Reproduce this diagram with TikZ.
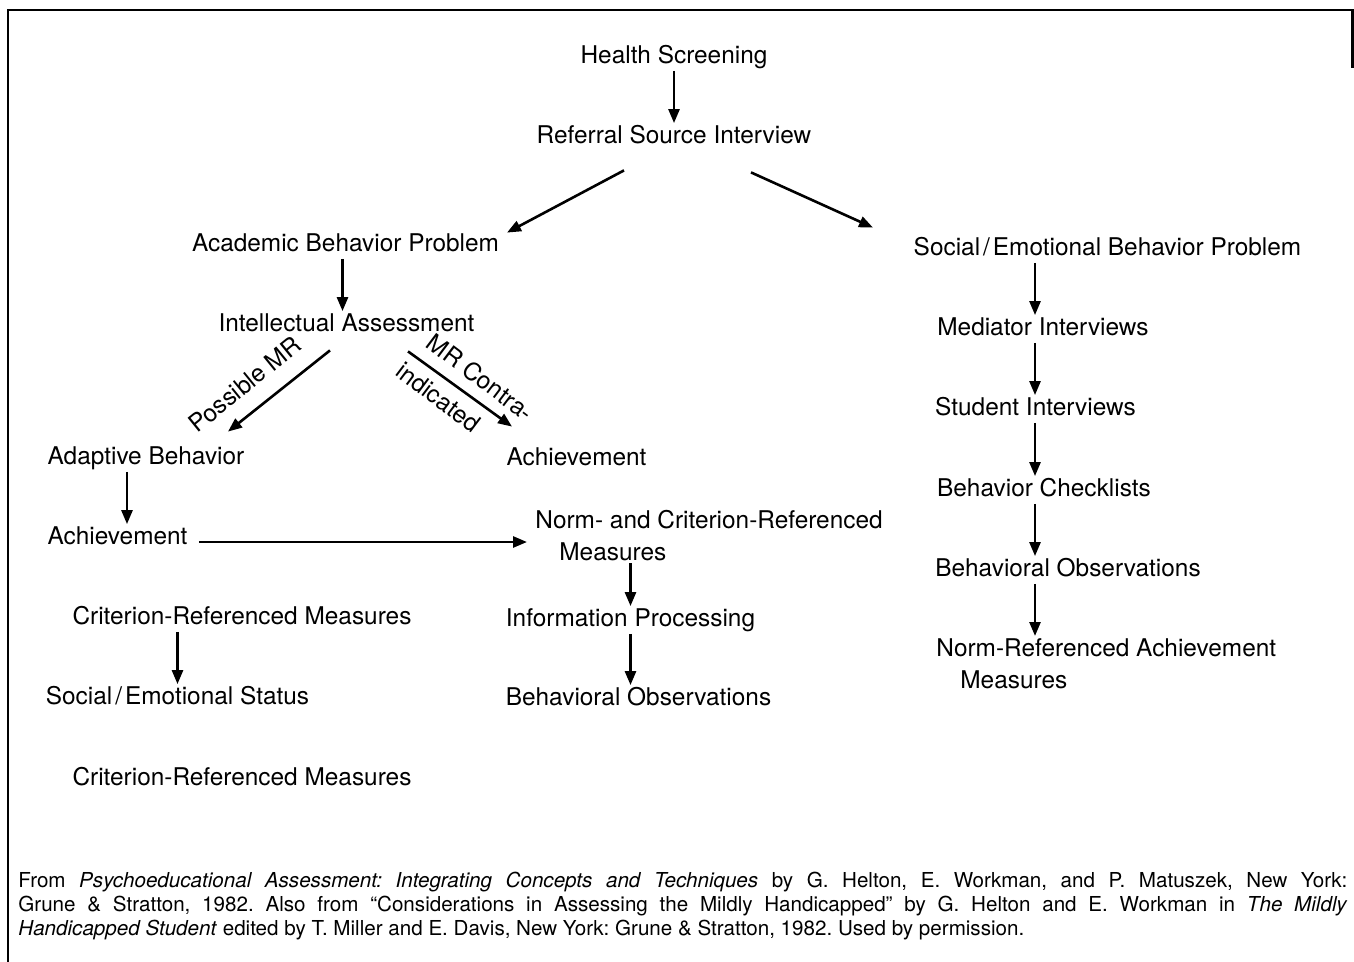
\documentclass[tikz,border=0pt]{standalone}
\usepackage{fontspec}
\setmainfont{TeX Gyre Heros}
\usetikzlibrary{arrows.meta,calc,positioning}
\tikzset{
    flow chart/.style = {x=0.5pt, y=-0.5pt, >={Triangle[length=7pt, width=5.5pt]}},
    item/.style       = {inner sep=1pt, text height=9pt, text depth=2.5pt,
                         font=\fontsize{12.2}{14}\selectfont},
    twoline/.style    = {inner sep=1pt, align=left, anchor=north west,
                         font=\fontsize{12.2}{16}\selectfont},
    tag/.style        = {item, inner sep=0pt},
    arr/.style        = {->, line width=1.3pt},
    note/.style       = {inner sep=0pt, anchor=north west, align=left,
                         font=\fontsize{10.3}{12}\selectfont},
    frame/.style      = {line width=1.3pt}
}
\newcommand{\slashgap}{\kern1.5pt/\kern1.5pt}
\frenchspacing

\begin{document}
\begin{tikzpicture}[flow chart]
\useasboundingbox (0,0) rectangle (1354,962);

% ================= Outer frame =================
\draw[frame] (8,962) -- (8,10) -- (1352.5,10) -- (1352.5,68);

% ================= Top of the chart =================
\node[item] (hs)  at (674, 57)  {Health Screening};
\node[item] (rsi) at (674, 137) {Referral Source Interview};
\draw[arr] (hs.south) -- (rsi.north);

\node[item] (abp)  at (345.5, 245) {Academic Behavior Problem};
\node[item] (sebp) at (1107.5, 249) {Social\slashgap Emotional Behavior Problem};
\draw[arr] ($(rsi.south)+(-50,19.5)$) -- ($(abp.north)+(161.5,1.5)$);
\draw[arr] ($(rsi.south)+(77,21.5)$) -- ($(sebp.north)+(-234.5,-7.5)$);

% ================= Academic branch =================
\node[item] (ia) at (346.5, 325) {Intellectual Assessment};
\draw[arr] ($(abp.south)+(-3,0)$) -- ($(ia.north)+(-4,0)$);

\node[item] (ab)   at (146, 458)   {Adaptive Behavior};
\node[item] (achR) at (576.5, 459) {Achievement};
\draw[arr] ($(ia.south)+(-16.5,11.5)$) -- ($(ab.north)+(82,-12.5)$);
\draw[arr] ($(ia.south)+(61.5,12.5)$) -- ($(achR.north)+(-64.5,-18.5)$);
\node[tag, rotate=39]  at (246, 386) {Possible MR};
\node[tag, rotate=-37] at (479, 379) {MR Contra-};
\node[tag, rotate=-37] at (437, 399) {indicated};

\node[item] (achL) at (117.5, 538) {Achievement};
\draw[arr] ($(ab.south)+(-19,0)$) -- ($(achL.north)+(9.5,0)$);

\node[twoline] (norm) at (533, 508)
    {Norm- and Criterion-Referenced\\\hspace*{12pt}Measures};
\coordinate (achout) at ($(achL.east)+(9,4)$);
\draw[arr, shorten >=3pt] (achout) -- (achout -| norm.west);

\node[item] (ip)  at (630.5, 620) {Information Processing};
\node[item] (bo1) at (638.5, 699) {Behavioral Observations};
\draw[arr] (norm.south -| ip.north) -- (ip.north);
\draw[arr] (ip.south) -- (ip.south |- bo1.north);

\node[item] (crit1) at (242, 618)   {Criterion-Referenced Measures};
\node[item] (ses)   at (177.5, 698) {Social\slashgap Emotional Status};
\node[item] (crit2) at (242, 779)   {Criterion-Referenced Measures};
\draw[arr] (crit1.south -| ses.north) -- (ses.north);

% ================= Social/emotional branch =================
\coordinate (col) at (1035, 0);
\node[item] (mi)  at (1043, 329)   {Mediator Interviews};
\node[item] (si)  at (1035.5, 409) {Student Interviews};
\node[item] (bc)  at (1044, 490)   {Behavior Checklists};
\node[item] (bo2) at (1068, 570)   {Behavioral Observations};
\node[twoline] (nra) at (934, 636)
    {Norm-Referenced Achievement\\\hspace*{12pt}Measures};
\draw[arr] (sebp.south -| col) -- (mi.north -| col);
\draw[arr] (mi.south -| col)   -- (si.north -| col);
\draw[arr] (si.south -| col)   -- (bc.north -| col);
\draw[arr] (bc.south -| col)   -- (bo2.north -| col);
\draw[arr] (bo2.south -| col)  -- (nra.north -| col);

% ================= Source note =================
\node[note] (src) at (18, 872) {%
    \makebox[664.5pt][s]{From \textit{Psychoeducational Assessment: Integrating Concepts and Techniques} by G. Helton, E. Workman, and P. Matuszek, New York:}\\
    \makebox[664.5pt][s]{Grune \& Stratton, 1982. Also from ``Considerations in Assessing the Mildly Handicapped'' by G. Helton and E. Workman in \textit{The Mildly}}\\
    \textit{Handicapped Student} edited by T. Miller and E. Davis, New York: Grune \& Stratton, 1982. Used by permission.};

\end{tikzpicture}
\end{document}
